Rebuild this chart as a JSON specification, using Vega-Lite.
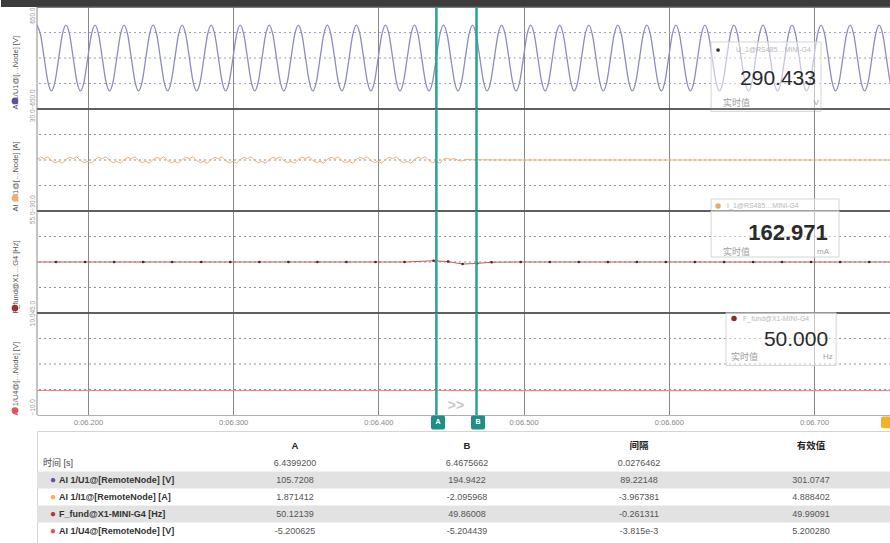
{
"$schema": "https://vega.github.io/schema/vega-lite/v6.json",
"background": "white",
"padding": {"left": 0, "top": 0, "right": 0, "bottom": 0},
"spacing": 0,
"bounds": "flush",
"config": {"font": "Liberation Sans, Noto Sans CJK SC, sans-serif", "view": {"stroke": null}},
"datasets": {
"cursors": [{"name": "A", "t": 6.43992}, {"name": "B", "t": 6.4675662}],
"u1": [
{"t":6.16485,"v":420},{"t":6.16735,"v":297},{"t":6.16985,"v":0},{"t":6.17235,"v":-297},{"t":6.17485,"v":-420},{"t":6.17735,"v":-297},{"t":6.17985,"v":0},{"t":6.18235,"v":297},
{"t":6.18485,"v":420},{"t":6.18735,"v":297},{"t":6.18985,"v":0},{"t":6.19235,"v":-297},{"t":6.19485,"v":-420},{"t":6.19735,"v":-297},{"t":6.19985,"v":0},{"t":6.20235,"v":297},
{"t":6.20485,"v":420},{"t":6.20735,"v":297},{"t":6.20985,"v":0},{"t":6.21235,"v":-297},{"t":6.21485,"v":-420},{"t":6.21735,"v":-297},{"t":6.21985,"v":0},{"t":6.22235,"v":297},
{"t":6.22485,"v":420},{"t":6.22735,"v":297},{"t":6.22985,"v":0},{"t":6.23235,"v":-297},{"t":6.23485,"v":-420},{"t":6.23735,"v":-297},{"t":6.23985,"v":0},{"t":6.24235,"v":297},
{"t":6.24485,"v":420},{"t":6.24735,"v":297},{"t":6.24985,"v":0},{"t":6.25235,"v":-297},{"t":6.25485,"v":-420},{"t":6.25735,"v":-297},{"t":6.25985,"v":0},{"t":6.26235,"v":297},
{"t":6.26485,"v":420},{"t":6.26735,"v":297},{"t":6.26985,"v":0},{"t":6.27235,"v":-297},{"t":6.27485,"v":-420},{"t":6.27735,"v":-297},{"t":6.27985,"v":0},{"t":6.28235,"v":297},
{"t":6.28485,"v":420},{"t":6.28735,"v":297},{"t":6.28985,"v":0},{"t":6.29235,"v":-297},{"t":6.29485,"v":-420},{"t":6.29735,"v":-297},{"t":6.29985,"v":0},{"t":6.30235,"v":297},
{"t":6.30485,"v":420},{"t":6.30735,"v":297},{"t":6.30985,"v":0},{"t":6.31235,"v":-297},{"t":6.31485,"v":-420},{"t":6.31735,"v":-297},{"t":6.31985,"v":0},{"t":6.32235,"v":297},
{"t":6.32485,"v":420},{"t":6.32735,"v":297},{"t":6.32985,"v":0},{"t":6.33235,"v":-297},{"t":6.33485,"v":-420},{"t":6.33735,"v":-297},{"t":6.33985,"v":0},{"t":6.34235,"v":297},
{"t":6.34485,"v":420},{"t":6.34735,"v":297},{"t":6.34985,"v":0},{"t":6.35235,"v":-297},{"t":6.35485,"v":-420},{"t":6.35735,"v":-297},{"t":6.35985,"v":0},{"t":6.36235,"v":297},
{"t":6.36485,"v":420},{"t":6.36735,"v":297},{"t":6.36985,"v":0},{"t":6.37235,"v":-297},{"t":6.37485,"v":-420},{"t":6.37735,"v":-297},{"t":6.37985,"v":0},{"t":6.38235,"v":297},
{"t":6.38485,"v":420},{"t":6.38735,"v":297},{"t":6.38985,"v":0},{"t":6.39235,"v":-297},{"t":6.39485,"v":-420},{"t":6.39735,"v":-297},{"t":6.39985,"v":0},{"t":6.40235,"v":297},
{"t":6.40485,"v":420},{"t":6.40735,"v":297},{"t":6.40985,"v":0},{"t":6.41235,"v":-297},{"t":6.41485,"v":-420},{"t":6.41735,"v":-297},{"t":6.41985,"v":0},{"t":6.42235,"v":297},
{"t":6.42485,"v":420},{"t":6.42735,"v":297},{"t":6.42985,"v":0},{"t":6.43235,"v":-297},{"t":6.43485,"v":-420},{"t":6.43735,"v":-297},{"t":6.43985,"v":0},{"t":6.44235,"v":297},
{"t":6.44485,"v":420},{"t":6.44735,"v":297},{"t":6.44985,"v":0},{"t":6.45235,"v":-297},{"t":6.45485,"v":-420},{"t":6.45735,"v":-297},{"t":6.45985,"v":0},{"t":6.46235,"v":297},
{"t":6.46485,"v":420},{"t":6.46735,"v":297},{"t":6.46985,"v":0},{"t":6.47235,"v":-297},{"t":6.47485,"v":-420},{"t":6.47735,"v":-297},{"t":6.47985,"v":0},{"t":6.48235,"v":297},
{"t":6.48485,"v":420},{"t":6.48735,"v":297},{"t":6.48985,"v":0},{"t":6.49235,"v":-297},{"t":6.49485,"v":-420},{"t":6.49735,"v":-297},{"t":6.49985,"v":0},{"t":6.50235,"v":297},
{"t":6.50485,"v":420},{"t":6.50735,"v":297},{"t":6.50985,"v":0},{"t":6.51235,"v":-297},{"t":6.51485,"v":-420},{"t":6.51735,"v":-297},{"t":6.51985,"v":0},{"t":6.52235,"v":297},
{"t":6.52485,"v":420},{"t":6.52735,"v":297},{"t":6.52985,"v":0},{"t":6.53235,"v":-297},{"t":6.53485,"v":-420},{"t":6.53735,"v":-297},{"t":6.53985,"v":0},{"t":6.54235,"v":297},
{"t":6.54485,"v":420},{"t":6.54735,"v":297},{"t":6.54985,"v":0},{"t":6.55235,"v":-297},{"t":6.55485,"v":-420},{"t":6.55735,"v":-297},{"t":6.55985,"v":0},{"t":6.56235,"v":297},
{"t":6.56485,"v":420},{"t":6.56735,"v":297},{"t":6.56985,"v":0},{"t":6.57235,"v":-297},{"t":6.57485,"v":-420},{"t":6.57735,"v":-297},{"t":6.57985,"v":0},{"t":6.58235,"v":297},
{"t":6.58485,"v":420},{"t":6.58735,"v":297},{"t":6.58985,"v":0},{"t":6.59235,"v":-297},{"t":6.59485,"v":-420},{"t":6.59735,"v":-297},{"t":6.59985,"v":0},{"t":6.60235,"v":297},
{"t":6.60485,"v":420},{"t":6.60735,"v":297},{"t":6.60985,"v":0},{"t":6.61235,"v":-297},{"t":6.61485,"v":-420},{"t":6.61735,"v":-297},{"t":6.61985,"v":0},{"t":6.62235,"v":297},
{"t":6.62485,"v":420},{"t":6.62735,"v":297},{"t":6.62985,"v":0},{"t":6.63235,"v":-297},{"t":6.63485,"v":-420},{"t":6.63735,"v":-297},{"t":6.63985,"v":0},{"t":6.64235,"v":297},
{"t":6.64485,"v":420},{"t":6.64735,"v":297},{"t":6.64985,"v":0},{"t":6.65235,"v":-297},{"t":6.65485,"v":-420},{"t":6.65735,"v":-297},{"t":6.65985,"v":0},{"t":6.66235,"v":297},
{"t":6.66485,"v":420},{"t":6.66735,"v":297},{"t":6.66985,"v":0},{"t":6.67235,"v":-297},{"t":6.67485,"v":-420},{"t":6.67735,"v":-297},{"t":6.67985,"v":0},{"t":6.68235,"v":297},
{"t":6.68485,"v":420},{"t":6.68735,"v":297},{"t":6.68985,"v":0},{"t":6.69235,"v":-297},{"t":6.69485,"v":-420},{"t":6.69735,"v":-297},{"t":6.69985,"v":0},{"t":6.70235,"v":297},
{"t":6.70485,"v":420},{"t":6.70735,"v":297},{"t":6.70985,"v":0},{"t":6.71235,"v":-297},{"t":6.71485,"v":-420},{"t":6.71735,"v":-297},{"t":6.71985,"v":0},{"t":6.72235,"v":297},
{"t":6.72485,"v":420},{"t":6.72735,"v":297},{"t":6.72985,"v":0},{"t":6.73235,"v":-297},{"t":6.73485,"v":-420},{"t":6.73735,"v":-297},{"t":6.73985,"v":0},{"t":6.74235,"v":297},
{"t":6.74485,"v":420},{"t":6.74735,"v":297},{"t":6.74985,"v":0},{"t":6.75235,"v":-297},{"t":6.75485,"v":-420}
],
"i1": [
{"t":6.16485,"v":0.3},{"t":6.16735,"v":1.6},{"t":6.16985,"v":0.8},{"t":6.17235,"v":1.9},{"t":6.17485,"v":-0.3},{"t":6.17735,"v":-1.6},{"t":6.17985,"v":-0.8},{"t":6.18235,"v":-1.9},
{"t":6.18485,"v":0.3},{"t":6.18735,"v":1.6},{"t":6.18985,"v":0.8},{"t":6.19235,"v":1.9},{"t":6.19485,"v":-0.3},{"t":6.19735,"v":-1.6},{"t":6.19985,"v":-0.8},{"t":6.20235,"v":-1.9},
{"t":6.20485,"v":0.3},{"t":6.20735,"v":1.6},{"t":6.20985,"v":0.8},{"t":6.21235,"v":1.9},{"t":6.21485,"v":-0.3},{"t":6.21735,"v":-1.6},{"t":6.21985,"v":-0.8},{"t":6.22235,"v":-1.9},
{"t":6.22485,"v":0.3},{"t":6.22735,"v":1.6},{"t":6.22985,"v":0.8},{"t":6.23235,"v":1.9},{"t":6.23485,"v":-0.3},{"t":6.23735,"v":-1.6},{"t":6.23985,"v":-0.8},{"t":6.24235,"v":-1.9},
{"t":6.24485,"v":0.3},{"t":6.24735,"v":1.6},{"t":6.24985,"v":0.8},{"t":6.25235,"v":1.9},{"t":6.25485,"v":-0.3},{"t":6.25735,"v":-1.6},{"t":6.25985,"v":-0.8},{"t":6.26235,"v":-1.9},
{"t":6.26485,"v":0.3},{"t":6.26735,"v":1.6},{"t":6.26985,"v":0.8},{"t":6.27235,"v":1.9},{"t":6.27485,"v":-0.3},{"t":6.27735,"v":-1.6},{"t":6.27985,"v":-0.8},{"t":6.28235,"v":-1.9},
{"t":6.28485,"v":0.3},{"t":6.28735,"v":1.6},{"t":6.28985,"v":0.8},{"t":6.29235,"v":1.9},{"t":6.29485,"v":-0.3},{"t":6.29735,"v":-1.6},{"t":6.29985,"v":-0.8},{"t":6.30235,"v":-1.9},
{"t":6.30485,"v":0.3},{"t":6.30735,"v":1.6},{"t":6.30985,"v":0.8},{"t":6.31235,"v":1.9},{"t":6.31485,"v":-0.3},{"t":6.31735,"v":-1.6},{"t":6.31985,"v":-0.8},{"t":6.32235,"v":-1.9},
{"t":6.32485,"v":0.3},{"t":6.32735,"v":1.6},{"t":6.32985,"v":0.8},{"t":6.33235,"v":1.9},{"t":6.33485,"v":-0.3},{"t":6.33735,"v":-1.6},{"t":6.33985,"v":-0.8},{"t":6.34235,"v":-1.9},
{"t":6.34485,"v":0.3},{"t":6.34735,"v":1.6},{"t":6.34985,"v":0.8},{"t":6.35235,"v":1.9},{"t":6.35485,"v":-0.3},{"t":6.35735,"v":-1.6},{"t":6.35985,"v":-0.8},{"t":6.36235,"v":-1.9},
{"t":6.36485,"v":0.3},{"t":6.36735,"v":1.6},{"t":6.36985,"v":0.8},{"t":6.37235,"v":1.9},{"t":6.37485,"v":-0.3},{"t":6.37735,"v":-1.6},{"t":6.37985,"v":-0.8},{"t":6.38235,"v":-1.9},
{"t":6.38485,"v":0.3},{"t":6.38735,"v":1.6},{"t":6.38985,"v":0.8},{"t":6.39235,"v":1.9},{"t":6.39485,"v":-0.3},{"t":6.39735,"v":-1.6},{"t":6.39985,"v":-0.8},{"t":6.40235,"v":-1.9},
{"t":6.40485,"v":0.3},{"t":6.40735,"v":1.6},{"t":6.40985,"v":0.8},{"t":6.41235,"v":1.9},{"t":6.41485,"v":-0.3},{"t":6.41735,"v":-1.6},{"t":6.41985,"v":-0.8},{"t":6.42235,"v":-1.9},
{"t":6.42485,"v":0.3},{"t":6.42735,"v":1.6},{"t":6.42985,"v":0.8},{"t":6.43235,"v":1.9},{"t":6.43485,"v":-0.3},{"t":6.43735,"v":-1.6},{"t":6.43985,"v":-0.8},{"t":6.44235,"v":-1.9},
{"t":6.44485,"v":0.5},{"t":6.44735,"v":1.0},{"t":6.44985,"v":0.3},{"t":6.45235,"v":0.9},{"t":6.45485,"v":-0.2},{"t":6.45735,"v":-0.6},{"t":6.45985,"v":0.2},{"t":6.46235,"v":0.4},{"t":6.46485,"v":0.1},{"t":6.46735,"v":0.2},
{"t":6.48,"v":0.05},{"t":6.5,"v":0},{"t":6.55,"v":0},{"t":6.6,"v":0},{"t":6.65,"v":0},{"t":6.7,"v":0},{"t":6.755,"v":0}
],
"ff": [
{"t":6.164,"v":50.0},{"t":6.178,"v":50.0},{"t":6.198,"v":50.0},{"t":6.218,"v":50.0},{"t":6.238,"v":50.0},{"t":6.258,"v":50.0},{"t":6.278,"v":50.0},{"t":6.298,"v":50.0},{"t":6.318,"v":50.0},{"t":6.338,"v":50.0},{"t":6.358,"v":50.0},{"t":6.378,"v":50.0},{"t":6.398,"v":50.0},{"t":6.418,"v":50.0},
{"t":6.438,"v":50.12},{"t":6.448,"v":50.04},{"t":6.458,"v":49.8},{"t":6.468,"v":49.86},{"t":6.478,"v":49.98},
{"t":6.498,"v":50.0},{"t":6.518,"v":50.0},{"t":6.538,"v":50.0},{"t":6.558,"v":50.0},{"t":6.578,"v":50.0},{"t":6.598,"v":50.0},{"t":6.618,"v":50.0},{"t":6.638,"v":50.0},{"t":6.658,"v":50.0},{"t":6.678,"v":50.0},{"t":6.698,"v":50.0},{"t":6.718,"v":50.0},{"t":6.738,"v":50.0},{"t":6.754,"v":50.0}
],
"u4": [{"t":6.16,"v":-5.2},{"t":6.43992,"v":-5.2006},{"t":6.4675662,"v":-5.2044},{"t":6.76,"v":-5.2}],
"cells": [
{"row":"time","col":"A","val":"6.4399200"},{"row":"time","col":"B","val":"6.4675662"},{"row":"time","col":"间隔","val":"0.0276462"},
{"row":"U1","col":"A","val":"105.7208"},{"row":"U1","col":"B","val":"194.9422"},{"row":"U1","col":"间隔","val":"89.22148"},{"row":"U1","col":"有效值","val":"301.0747"},
{"row":"I1","col":"A","val":"1.871412"},{"row":"I1","col":"B","val":"-2.095968"},{"row":"I1","col":"间隔","val":"-3.967381"},{"row":"I1","col":"有效值","val":"4.888402"},
{"row":"F","col":"A","val":"50.12139"},{"row":"F","col":"B","val":"49.86008"},{"row":"F","col":"间隔","val":"-0.261311"},{"row":"F","col":"有效值","val":"49.99091"},
{"row":"U4","col":"A","val":"-5.200625"},{"row":"U4","col":"B","val":"-5.204439"},{"row":"U4","col":"间隔","val":"-3.815e-3"},{"row":"U4","col":"有效值","val":"5.200280"}
],
"header": [{"col":"A"},{"col":"B"},{"col":"间隔"},{"col":"有效值"}],
"rowlabels": [
{"row":"U1","label":"AI 1/U1@[RemoteNode] [V]"},
{"row":"I1","label":"AI 1/I1@[RemoteNode] [A]"},
{"row":"F","label":"F_fund@X1-MINI-G4 [Hz]"},
{"row":"U4","label":"AI 1/U4@[RemoteNode] [V]"}
]
},
"vconcat": [
{
"width": 854, "height": 102,
"layer": [
{"data": {"values": [{"v": -325}, {"v": 0}, {"v": 325}]}, "mark": {"type": "rule", "color": "#9d9dc2", "strokeDash": [2, 3], "strokeWidth": 1}, "encoding": {"y": {"field": "v", "type": "quantitative"}}},
{"data": {"name": "u1"},
 "mark": {"type": "line", "color": "#8b8bc0", "strokeWidth": 1.3, "interpolate": "monotone", "clip": true},
 "encoding": {
  "x": {"field": "t", "type": "quantitative", "scale": {"domain": [6.1649, 6.753], "nice": false, "zero": false},
        "axis": {"title": null, "labels": false, "ticks": false, "domain": false, "grid": true, "gridColor": "#888", "values": [6.2, 6.3, 6.4, 6.5, 6.6, 6.7], "minExtent": 0, "maxExtent": 0}},
  "y": {"field": "v", "type": "quantitative", "scale": {"domain": [-650, 650], "nice": false, "zero": false},
        "axis": {"title": "\u00a0\u00a0\u00a0AI 1/U1@[…Node] [V]", "titleAnchor": "start", "titleFontSize": 7.5, "titleFontWeight": "normal", "titleColor": "#555", "titlePadding": 9,
                 "values": [-650, 650], "labelExpr": "format(datum.value, '.1f')",
                 "labelAngle": -90, "labelFontSize": 6.5, "labelColor": "#999",
                 "labelAlign": {"condition": {"test": "datum.value > 0", "value": "right"}, "value": "left"},
                 "labelBaseline": "bottom", "labelPadding": 2, "ticks": false, "domain": false, "grid": false,
                 "minExtent": 9, "maxExtent": 9}}
 }},
{"data": {"values": [{}]}, "mark": {"type": "rect", "color": "#3c3c3c"}, "encoding": {"y": {"datum": 739.2}, "y2": {"datum": 650}, "x": {"datum": 6.14008}, "x2": {"datum": 6.76}}},
{"data": {"values": [{}]}, "mark": {"type": "rule", "color": "#555", "strokeWidth": 1.3}, "encoding": {"y": {"datum": 650}}},
{"data": {"values": [{}]}, "mark": {"type": "rule", "color": "#555", "strokeWidth": 1.3}, "encoding": {"y": {"datum": -650}}},
{"data": {"values": [{}]}, "mark": {"type": "rule", "color": "#888", "strokeWidth": 1}, "encoding": {"x": {"datum": 6.1649}}},
{"data": {"values": [{}]}, "mark": {"type": "rect", "fill": "white", "fillOpacity": 0.5, "stroke": "#d5d5d5", "strokeWidth": 1}, "encoding": {"x": {"datum": 6.6291}, "x2": {"datum": 6.7048}, "y": {"datum": 204}, "y2": {"datum": -680}}},
{"data": {"values": [{}]}, "mark": {"type": "point", "filled": true, "size": 14, "color": "#333", "opacity": 1}, "encoding": {"x": {"datum": 6.6339}, "y": {"datum": 102}}},
{"data": {"values": [{"txt": "U_1@RS485…MINI-G4"}]}, "mark": {"type": "text", "align": "left", "baseline": "middle", "fontSize": 7, "color": "#b8b8b8"}, "encoding": {"x": {"datum": 6.6463}, "y": {"datum": 102}, "text": {"field": "txt"}}},
{"data": {"values": [{"txt": "290.433"}]}, "mark": {"type": "text", "align": "center", "baseline": "middle", "fontSize": 21, "color": "#2a2a2a"}, "encoding": {"x": {"datum": 6.6752}, "y": {"datum": -268}, "text": {"field": "txt"}}},
{"data": {"values": [{"txt": "实时值"}]}, "mark": {"type": "text", "align": "left", "baseline": "middle", "fontSize": 9, "color": "#a0a0a0"}, "encoding": {"x": {"datum": 6.6373}, "y": {"datum": -574}, "text": {"field": "txt"}}},
{"data": {"values": [{"txt": "V"}]}, "mark": {"type": "text", "align": "center", "baseline": "middle", "fontSize": 8, "color": "#a0a0a0"}, "encoding": {"x": {"datum": 6.7014}, "y": {"datum": -574}, "text": {"field": "txt"}}},
{"data": {"name": "cursors"}, "mark": {"type": "rule", "color": "#27a394", "strokeWidth": 2.5}, "encoding": {"x": {"field": "t", "type": "quantitative"}}},
{"data": {"values": [{}]}, "mark": {"type": "point", "filled": true, "size": 45, "color": "#5b4fa0", "opacity": 1}, "encoding": {"x": {"datum": 6.14973}, "y": {"datum": -548}}}
]
},
{
"width": 854, "height": 102,
"layer": [
{"data": {"values": [{"v": -15}, {"v": 0}, {"v": 15}]}, "mark": {"type": "rule", "color": "#8f8f8f", "strokeDash": [2, 3], "strokeWidth": 1}, "encoding": {"y": {"field": "v", "type": "quantitative"}}},
{"data": {"name": "i1"},
 "mark": {"type": "line", "color": "#f2b06c", "strokeWidth": 1, "clip": true},
 "encoding": {
  "x": {"field": "t", "type": "quantitative", "scale": {"domain": [6.1649, 6.753], "nice": false, "zero": false},
        "axis": {"title": null, "labels": false, "ticks": false, "domain": false, "grid": true, "gridColor": "#888", "values": [6.2, 6.3, 6.4, 6.5, 6.6, 6.7], "minExtent": 0, "maxExtent": 0}},
  "y": {"field": "v", "type": "quantitative", "scale": {"domain": [-30, 30], "nice": false, "zero": false},
        "axis": {"title": "\u00a0\u00a0\u00a0AI 1/I1@[…Node] [A]", "titleAnchor": "start", "titleFontSize": 7.5, "titleFontWeight": "normal", "titleColor": "#555", "titlePadding": 9,
                 "values": [-30, 30], "labelExpr": "format(datum.value, '.1f')",
                 "labelAngle": -90, "labelFontSize": 6.5, "labelColor": "#999",
                 "labelAlign": {"condition": {"test": "datum.value > 0", "value": "right"}, "value": "left"},
                 "labelBaseline": "bottom", "labelPadding": 2, "ticks": false, "domain": false, "grid": false,
                 "minExtent": 9, "maxExtent": 9}}
 }},
{"data": {"values": [{}]}, "mark": {"type": "rule", "color": "#555", "strokeWidth": 1.3}, "encoding": {"y": {"datum": 30}}},
{"data": {"values": [{}]}, "mark": {"type": "rule", "color": "#555", "strokeWidth": 1.3}, "encoding": {"y": {"datum": -30}}},
{"data": {"values": [{}]}, "mark": {"type": "rule", "color": "#888", "strokeWidth": 1}, "encoding": {"x": {"datum": 6.1649}}},
{"data": {"values": [{}]}, "mark": {"type": "rect", "fill": "white", "fillOpacity": 0.5, "stroke": "#d5d5d5", "strokeWidth": 1}, "encoding": {"x": {"datum": 6.6291}, "x2": {"datum": 6.71722}, "y": {"datum": -22.94}, "y2": {"datum": -30}}},
{"data": {"values": [{}]}, "mark": {"type": "point", "filled": true, "size": 30, "color": "#f0a860", "opacity": 1}, "encoding": {"x": {"datum": 6.6339}, "y": {"datum": -27.0}}},
{"data": {"values": [{"txt": "I_1@RS485…MINI-G4"}]}, "mark": {"type": "text", "align": "left", "baseline": "middle", "fontSize": 7, "color": "#b8b8b8"}, "encoding": {"x": {"datum": 6.6401}, "y": {"datum": -27.0}, "text": {"field": "txt"}}},
{"data": {"name": "cursors"}, "mark": {"type": "rule", "color": "#27a394", "strokeWidth": 2.5}, "encoding": {"x": {"field": "t", "type": "quantitative"}}},
{"data": {"values": [{}]}, "mark": {"type": "point", "filled": true, "size": 45, "color": "#f3ae62", "opacity": 1}, "encoding": {"x": {"datum": 6.14973}, "y": {"datum": -22.4}}}
]
},
{
"width": 854, "height": 102,
"layer": [
{"data": {"values": [{"v": 47.5}, {"v": 50}, {"v": 52.5}]}, "mark": {"type": "rule", "color": "#8f8f8f", "strokeDash": [2, 3], "strokeWidth": 1}, "encoding": {"y": {"field": "v", "type": "quantitative"}}},
{"data": {"name": "ff"},
 "mark": {"type": "line", "color": "#c85a5a", "strokeWidth": 1, "clip": true},
 "encoding": {
  "x": {"field": "t", "type": "quantitative", "scale": {"domain": [6.1649, 6.753], "nice": false, "zero": false},
        "axis": {"title": null, "labels": false, "ticks": false, "domain": false, "grid": true, "gridColor": "#888", "values": [6.2, 6.3, 6.4, 6.5, 6.6, 6.7], "minExtent": 0, "maxExtent": 0}},
  "y": {"field": "v", "type": "quantitative", "scale": {"domain": [45, 55], "nice": false, "zero": false},
        "axis": {"title": "\u00a0\u00a0\u00a0F_fund@X1…G4 [Hz]", "titleAnchor": "start", "titleFontSize": 7.5, "titleFontWeight": "normal", "titleColor": "#555", "titlePadding": 9,
                 "values": [45, 55], "labelExpr": "format(datum.value, '.1f')",
                 "labelAngle": -90, "labelFontSize": 6.5, "labelColor": "#999",
                 "labelAlign": {"condition": {"test": "datum.value > 50", "value": "right"}, "value": "left"},
                 "labelBaseline": "bottom", "labelPadding": 2, "ticks": false, "domain": false, "grid": false,
                 "minExtent": 9, "maxExtent": 9}}
 }},
{"data": {"name": "ff"}, "mark": {"type": "point", "filled": true, "size": 7, "color": "#5b1f1f", "opacity": 1, "clip": true}, "encoding": {"x": {"field": "t", "type": "quantitative"}, "y": {"field": "v", "type": "quantitative"}}},
{"data": {"values": [{}]}, "mark": {"type": "rule", "color": "#555", "strokeWidth": 1.3}, "encoding": {"y": {"datum": 55}}},
{"data": {"values": [{}]}, "mark": {"type": "rule", "color": "#555", "strokeWidth": 1.3}, "encoding": {"y": {"datum": 45}}},
{"data": {"values": [{}]}, "mark": {"type": "rule", "color": "#888", "strokeWidth": 1}, "encoding": {"x": {"datum": 6.1649}}},
{"data": {"values": [{}]}, "mark": {"type": "rect", "fill": "white", "fillOpacity": 0.5, "stroke": "#d5d5d5", "strokeWidth": 1}, "encoding": {"x": {"datum": 6.6291}, "x2": {"datum": 6.71722}, "y": {"datum": 55}, "y2": {"datum": 50.49}}},
{"data": {"values": [{"txt": "162.971"}]}, "mark": {"type": "text", "align": "center", "baseline": "middle", "fontSize": 22, "fontWeight": "bold", "color": "#2a2a2a"}, "encoding": {"x": {"datum": 6.6821}, "y": {"datum": 52.84}, "text": {"field": "txt"}}},
{"data": {"values": [{"txt": "实时值"}]}, "mark": {"type": "text", "align": "left", "baseline": "middle", "fontSize": 9, "color": "#a0a0a0"}, "encoding": {"x": {"datum": 6.6373}, "y": {"datum": 50.98}, "text": {"field": "txt"}}},
{"data": {"values": [{"txt": "mA"}]}, "mark": {"type": "text", "align": "center", "baseline": "middle", "fontSize": 8, "color": "#a0a0a0"}, "encoding": {"x": {"datum": 6.7062}, "y": {"datum": 50.98}, "text": {"field": "txt"}}},
{"data": {"name": "cursors"}, "mark": {"type": "rule", "color": "#27a394", "strokeWidth": 2.5}, "encoding": {"x": {"field": "t", "type": "quantitative"}}},
{"data": {"values": [{}]}, "mark": {"type": "point", "filled": true, "size": 45, "color": "#993333", "opacity": 1}, "encoding": {"x": {"datum": 6.14973}, "y": {"datum": 45.49}}}
]
},
{
"width": 854, "height": 102,
"layer": [
{"data": {"values": [{"v": -5}, {"v": 0}, {"v": 5}]}, "mark": {"type": "rule", "color": "#8f8f8f", "strokeDash": [2, 3], "strokeWidth": 1}, "encoding": {"y": {"field": "v", "type": "quantitative"}}},
{"data": {"name": "u4"},
 "mark": {"type": "line", "color": "#ee8a86", "strokeWidth": 1.2, "clip": true},
 "encoding": {
  "x": {"field": "t", "type": "quantitative", "scale": {"domain": [6.1649, 6.753], "nice": false, "zero": false},
        "axis": {"title": null, "labels": true, "labelExpr": "'0:0' + format(datum.value, '.3f')", "labelFontSize": 7.5, "labelColor": "#888", "labelPadding": 3, "ticks": false, "domain": true, "domainColor": "#b0b0b0", "grid": true, "gridColor": "#888", "values": [6.2, 6.3, 6.4, 6.5, 6.6, 6.7]}},
  "y": {"field": "v", "type": "quantitative", "scale": {"domain": [-10, 10], "nice": false, "zero": false},
        "axis": {"title": "\u00a0\u00a0\u00a0AI 1/U4@[…Node] [V]", "titleAnchor": "start", "titleFontSize": 7.5, "titleFontWeight": "normal", "titleColor": "#555", "titlePadding": 9,
                 "values": [-10, 10], "labelExpr": "format(datum.value, '.1f')",
                 "labelAngle": -90, "labelFontSize": 6.5, "labelColor": "#999",
                 "labelAlign": {"condition": {"test": "datum.value > 0", "value": "right"}, "value": "left"},
                 "labelBaseline": "bottom", "labelPadding": 2, "ticks": false, "domain": false, "grid": false,
                 "minExtent": 9, "maxExtent": 9}}
 }},
{"data": {"values": [{}]}, "mark": {"type": "rule", "color": "#555", "strokeWidth": 1.3}, "encoding": {"y": {"datum": 10}}},
{"data": {"values": [{}]}, "mark": {"type": "rule", "color": "#888", "strokeWidth": 1}, "encoding": {"x": {"datum": 6.1649}}},
{"data": {"values": [{}]}, "mark": {"type": "rect", "fill": "white", "fillOpacity": 0.5, "stroke": "#d5d5d5", "strokeWidth": 1}, "encoding": {"x": {"datum": 6.6394}, "x2": {"datum": 6.7152}, "y": {"datum": 10}, "y2": {"datum": -0.29}}},
{"data": {"values": [{}]}, "mark": {"type": "point", "filled": true, "size": 30, "color": "#8b2a2a", "opacity": 1}, "encoding": {"x": {"datum": 6.6449}, "y": {"datum": 8.92}}},
{"data": {"values": [{"txt": "F_fund@X1-MINI-G4"}]}, "mark": {"type": "text", "align": "left", "baseline": "middle", "fontSize": 7, "color": "#b8b8b8"}, "encoding": {"x": {"datum": 6.6511}, "y": {"datum": 8.92}, "text": {"field": "txt"}}},
{"data": {"values": [{"txt": "50.000"}]}, "mark": {"type": "text", "align": "center", "baseline": "middle", "fontSize": 21, "color": "#2a2a2a"}, "encoding": {"x": {"datum": 6.6876}, "y": {"datum": 4.61}, "text": {"field": "txt"}}},
{"data": {"values": [{"txt": "实时值"}]}, "mark": {"type": "text", "align": "left", "baseline": "middle", "fontSize": 9, "color": "#a0a0a0"}, "encoding": {"x": {"datum": 6.6428}, "y": {"datum": 1.47}, "text": {"field": "txt"}}},
{"data": {"values": [{"txt": "Hz"}]}, "mark": {"type": "text", "align": "center", "baseline": "middle", "fontSize": 8, "color": "#a0a0a0"}, "encoding": {"x": {"datum": 6.7096}, "y": {"datum": 1.47}, "text": {"field": "txt"}}},
{"data": {"values": [{"txt": ">>"}]}, "mark": {"type": "text", "align": "center", "baseline": "middle", "fontSize": 14, "fontWeight": "bold", "color": "#c8c8c8"}, "encoding": {"x": {"datum": 6.45344}, "y": {"datum": -8.14}, "text": {"field": "txt"}}},
{"data": {"name": "cursors"}, "mark": {"type": "rule", "color": "#27a394", "strokeWidth": 2.5}, "encoding": {"x": {"field": "t", "type": "quantitative"}}},
{"data": {"values": [{"name": "A"}]}, "mark": {"type": "rect", "color": "#1f8f84", "cornerRadius": 2}, "encoding": {"x": {"datum": 6.43623}, "x2": {"datum": 6.44587}, "y": {"datum": -10.1}, "y2": {"datum": -12.84}}},
{"data": {"values": [{"name": "B"}]}, "mark": {"type": "rect", "color": "#1f8f84", "cornerRadius": 2}, "encoding": {"x": {"datum": 6.46377}, "x2": {"datum": 6.47342}, "y": {"datum": -10.1}, "y2": {"datum": -12.84}}},
{"data": {"values": [{"name": "A"}]}, "mark": {"type": "text", "align": "center", "baseline": "middle", "fontSize": 7, "fontWeight": "bold", "color": "white"}, "encoding": {"x": {"datum": 6.44105}, "y": {"datum": -11.47}, "text": {"field": "name"}}},
{"data": {"values": [{"name": "B"}]}, "mark": {"type": "text", "align": "center", "baseline": "middle", "fontSize": 7, "fontWeight": "bold", "color": "white"}, "encoding": {"x": {"datum": 6.4686}, "y": {"datum": -11.47}, "text": {"field": "name"}}},
{"data": {"values": [{}]}, "mark": {"type": "rect", "color": "#f4b223", "cornerRadius": 2}, "encoding": {"x": {"datum": 6.74614}, "x2": {"datum": 6.7544}, "y": {"datum": -10.3}, "y2": {"datum": -12.6}}},
{"data": {"values": [{}]}, "mark": {"type": "point", "filled": true, "size": 45, "color": "#e8505a", "opacity": 1}, "encoding": {"x": {"datum": 6.14973}, "y": {"datum": -9.12}}}
]
},
{
"width": 854, "height": 16,
"data": {"values": []},
"mark": "point"
},
{
"width": 860, "height": 115,
"view": {"stroke": "#d4d4d4", "strokeWidth": 1},
"layer": [
{"data": {"values": [{"row": "U1"}, {"row": "F"}]}, "mark": {"type": "rect", "color": "#e2e2e2"},
 "encoding": {"y": {"field": "row", "type": "nominal", "scale": {"type": "band", "domain": ["hdr", "time", "U1", "I1", "F", "U4"], "paddingInner": 0, "paddingOuter": 0.38}, "axis": null}}},
{"data": {"name": "cells"}, "mark": {"type": "text", "fontSize": 9, "color": "#555", "align": "center", "baseline": "middle"},
 "encoding": {
  "x": {"field": "col", "type": "nominal", "bandPosition": 0.5, "scale": {"type": "band", "domain": ["name", "A", "B", "间隔", "有效值"], "paddingInner": 0, "paddingOuter": 0}, "axis": null},
  "y": {"field": "row", "type": "nominal", "bandPosition": 0.5, "scale": {"type": "band", "domain": ["hdr", "time", "U1", "I1", "F", "U4"], "paddingInner": 0, "paddingOuter": 0.38}, "axis": null},
  "text": {"field": "val"}}},
{"data": {"name": "header"}, "mark": {"type": "text", "fontSize": 9.5, "fontWeight": "bold", "color": "#222", "align": "center", "baseline": "middle"},
 "encoding": {
  "x": {"field": "col", "type": "nominal", "bandPosition": 0.5},
  "y": {"datum": "hdr", "bandPosition": 0.5},
  "text": {"field": "col"}}},
{"data": {"values": [{"label": "时间 [s]"}]}, "mark": {"type": "text", "align": "left", "baseline": "middle", "dx": 6, "fontSize": 9, "color": "#444"},
 "encoding": {"x": {"datum": "name", "bandPosition": 0}, "y": {"datum": "time", "bandPosition": 0.5}, "text": {"field": "label"}}},
{"data": {"name": "rowlabels"}, "mark": {"type": "text", "align": "left", "baseline": "middle", "dx": 22, "fontSize": 9, "fontWeight": "bold", "color": "#333"},
 "encoding": {"x": {"datum": "name", "bandPosition": 0}, "y": {"field": "row", "type": "nominal", "bandPosition": 0.5}, "text": {"field": "label"}}},
{"data": {"name": "rowlabels"}, "mark": {"type": "text", "align": "center", "baseline": "middle", "dx": 16, "fontSize": 10, "text": "●"},
 "encoding": {"x": {"datum": "name", "bandPosition": 0}, "y": {"field": "row", "type": "nominal", "bandPosition": 0.5},
  "color": {"field": "row", "type": "nominal", "scale": {"domain": ["U1", "I1", "F", "U4"], "range": ["#5b4fa0", "#f3ae62", "#a83a3a", "#ec4f5a"]}, "legend": null}}}
]
}
]
}
